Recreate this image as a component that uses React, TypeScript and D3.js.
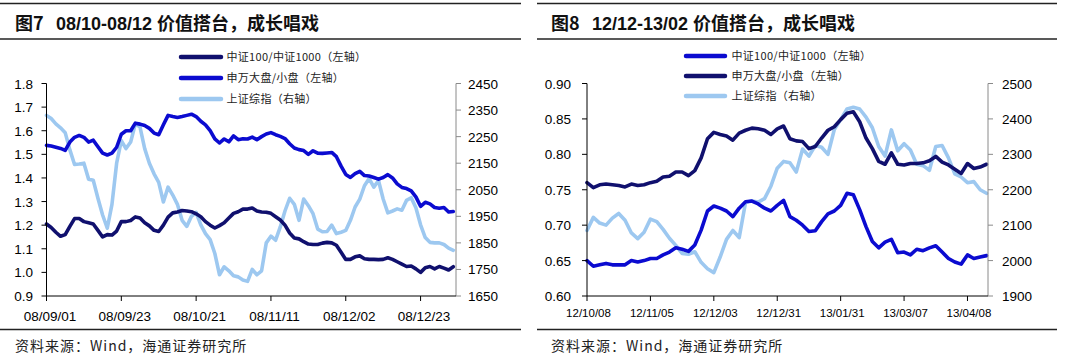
import React from "react";
import * as d3 from "d3";

const LATIN = "'Liberation Sans', Arial, 'Noto Sans CJK SC', sans-serif";
const CJK = "'Noto Sans CJK SC', 'Liberation Sans', sans-serif";

const NAVY = "#10106e";
const BLUE = "#0b0bd0";
const LIGHT = "#9dc8f0";

// ---------- Figure 7 data (one value per trading day) ----------
const fig7Label = "图7";
const fig7Title = "08/10-08/12 价值搭台，成长唱戏";
const fig7TickLabels = ["08/09/01", "08/09/23", "08/10/21", "08/11/11", "08/12/02", "08/12/23"];
const fig7TickDays = [0, 16, 32, 48, 64, 80];
const fig7LastDay = 87;
const fig7LeftTicks = [0.9, 1.0, 1.1, 1.2, 1.3, 1.4, 1.5, 1.6, 1.7, 1.8];
const fig7RightTicks = [1650, 1750, 1850, 1950, 2050, 2150, 2250, 2350, 2450];

// 中证100/中证1000 (left axis)
const fig7Csi = [
  1.205, 1.19, 1.17, 1.153, 1.16, 1.195, 1.228, 1.228, 1.215, 1.21,
  1.205, 1.178, 1.15, 1.16, 1.158, 1.175, 1.215, 1.215, 1.22, 1.235,
  1.23, 1.21, 1.197, 1.178, 1.173, 1.2, 1.234, 1.252, 1.256, 1.262,
  1.26, 1.257, 1.248, 1.236, 1.215, 1.2, 1.188, 1.198, 1.21, 1.23,
  1.25, 1.257, 1.268, 1.268, 1.273, 1.26, 1.256, 1.255, 1.25, 1.236,
  1.222, 1.2, 1.167, 1.146, 1.142, 1.13, 1.12, 1.118, 1.118, 1.124,
  1.127, 1.125, 1.115, 1.085, 1.055, 1.055, 1.066, 1.07, 1.058, 1.055,
  1.055, 1.054, 1.055, 1.062, 1.055, 1.045, 1.035, 1.025, 1.027, 1.015,
  1.0, 1.02, 1.025, 1.015, 1.025, 1.018, 1.01, 1.024,
];
// 申万大盘/小盘 (left axis)
const fig7Sw = [
  1.538, 1.535, 1.53, 1.525, 1.517, 1.552, 1.572, 1.58, 1.572, 1.552,
  1.56, 1.532, 1.505, 1.497, 1.505, 1.53, 1.585, 1.6, 1.6, 1.632,
  1.628, 1.622, 1.61, 1.59, 1.583, 1.625, 1.665, 1.66, 1.656, 1.66,
  1.665, 1.67, 1.66, 1.64, 1.625, 1.6, 1.565, 1.548, 1.565, 1.553,
  1.578, 1.562, 1.566, 1.565, 1.573, 1.562, 1.575, 1.586, 1.592, 1.583,
  1.576, 1.567, 1.545, 1.527, 1.52, 1.516, 1.5, 1.515, 1.505, 1.504,
  1.506, 1.508, 1.49, 1.45, 1.415, 1.402, 1.418, 1.428, 1.41, 1.408,
  1.402, 1.395, 1.402, 1.414, 1.4, 1.375, 1.36, 1.355, 1.345, 1.32,
  1.28, 1.297, 1.29, 1.275, 1.272, 1.275, 1.256, 1.258,
];
// 上证综指 (right axis)
const fig7Sse = [
  2330, 2318, 2298, 2283, 2265, 2200, 2145, 2147, 2150, 2090,
  2086, 2018, 1955, 1905, 1995, 2150, 2235, 2205, 2230, 2298,
  2286, 2205, 2150, 2110, 2078, 2004, 2060, 2030, 1995, 1935,
  1912, 1950, 1965, 1918, 1885, 1862, 1810, 1730, 1760, 1745,
  1726, 1722, 1710, 1705, 1750, 1730, 1745, 1850, 1875, 1860,
  1910, 1970, 2018, 1995, 1935, 2015, 1990, 1960, 1902, 1892,
  1893, 1917, 1885, 1890, 1897, 1935, 1985, 2015, 2065, 2092,
  2060, 2085, 2015, 1963, 1970, 1978, 1973, 2010, 2020, 1982,
  1918, 1870, 1852, 1850, 1850, 1844, 1830, 1822,
];

// ---------- Figure 8 data (one value every 2 trading days) ----------
const fig8Label = "图8";
const fig8Title = "12/12-13/02 价值搭台，成长唱戏";
const fig8TickLabels = ["12/10/08", "12/11/05", "12/12/03", "12/12/31", "13/01/31", "13/03/07", "13/04/08"];
const fig8TickDays = [0, 20, 40, 60, 80, 100, 120];
const fig8LastDay = 126;
const fig8Step = 2;
const fig8LeftTicks = [0.6, 0.65, 0.7, 0.75, 0.8, 0.85, 0.9];
const fig8RightTicks = [1900, 2000, 2100, 2200, 2300, 2400, 2500];

// 中证100/中证1000 (left axis)
const fig8Csi = [
  0.65, 0.642, 0.644, 0.646, 0.644, 0.644, 0.644, 0.65, 0.648, 0.65,
  0.653, 0.653, 0.658, 0.662, 0.668, 0.666, 0.663, 0.672, 0.693, 0.72,
  0.727, 0.724, 0.72, 0.712, 0.724, 0.733, 0.734, 0.73, 0.724, 0.72,
  0.728, 0.735, 0.712, 0.707, 0.7, 0.691, 0.692, 0.705, 0.716, 0.72,
  0.728, 0.745, 0.743, 0.722, 0.698, 0.677, 0.668, 0.676, 0.68, 0.661,
  0.662, 0.658, 0.666, 0.664, 0.668, 0.671, 0.662, 0.653, 0.648, 0.645,
  0.658, 0.653, 0.655, 0.657,
];
// 申万大盘/小盘 (left axis)
const fig8Sw = [
  0.76, 0.753, 0.757, 0.758, 0.757, 0.756, 0.754, 0.758, 0.756, 0.757,
  0.76, 0.762, 0.768, 0.769, 0.775, 0.775, 0.77, 0.777, 0.795, 0.822,
  0.831, 0.828, 0.826, 0.82, 0.83, 0.834, 0.837, 0.836, 0.834, 0.828,
  0.836, 0.84, 0.822, 0.819, 0.818, 0.808, 0.811, 0.823, 0.834, 0.839,
  0.849, 0.858, 0.86, 0.846, 0.823, 0.808, 0.79, 0.786, 0.802, 0.786,
  0.785, 0.787, 0.787, 0.788, 0.791, 0.797, 0.789, 0.785, 0.779, 0.773,
  0.787, 0.78, 0.782, 0.786,
];
// 上证综指 (right axis)
const fig8Sse = [
  2085, 2122, 2106, 2100, 2120, 2133, 2114, 2078, 2062, 2080,
  2117, 2110, 2088, 2063, 2043, 2020, 2018, 2025, 1995, 1977,
  1966, 2010, 2060, 2085, 2065, 2164, 2168, 2165, 2175, 2210,
  2261, 2280, 2276, 2250, 2315, 2295, 2325, 2320, 2300, 2370,
  2398, 2428, 2433, 2428, 2405, 2375, 2322, 2295, 2369, 2310,
  2330, 2312, 2272, 2268, 2255, 2322, 2325, 2290, 2245, 2236,
  2220, 2223, 2200, 2190,
];

const source = "资料来源：Wind，海通证券研究所";

type Series = { name: string; values: number[]; axis: "left" | "right"; color: string };

type ChartProps = {
  label: string;
  title: string;
  layout: any;
  lastDay: number;
  step: number;
  tickDays: number[];
  tickLabels: string[];
  leftTicks: number[];
  rightTicks: number[];
  leftFmt: (v: number) => string;
  legend: Series[];
  drawOrder: number[];
};

function Chart(p: ChartProps) {
  const L = p.layout;
  const x = d3.scaleLinear().domain([0, p.lastDay]).range([L.dataX0, L.dataX1]);
  const yL = d3.scaleLinear().domain([p.leftTicks[0], p.leftTicks[p.leftTicks.length - 1]]).range([L.bottom, L.top]);
  const yR = d3.scaleLinear().domain([p.rightTicks[0], p.rightTicks[p.rightTicks.length - 1]]).range([L.bottom, L.top]);

  const pathFor = (s: Series) => {
    const ys = s.axis === "left" ? yL : yR;
    const line = d3
      .line<number>()
      .x((_, i) => x(i * p.step))
      .y((v) => ys(v))
      .curve(d3.curveLinear);
    return line(s.values) || "";
  };

  return (
    <g>
      {/* header rules + title */}
      <line x1={L.ruleX0} x2={L.ruleX1} y1={3.5} y2={3.5} stroke="#222" strokeWidth={1.3} />
      <line x1={L.ruleX0} x2={L.ruleX1} y1={39} y2={39} stroke="#222" strokeWidth={1.3} />
      <text x={L.titleX0} y={29.5} fontFamily={CJK} fontWeight="bold" fontSize={18} fill="#111">
        {p.label}
      </text>
      <text x={L.titleX1} y={29.5} fontFamily={LATIN} fontWeight="bold" fontSize={18} fill="#111">
        {p.title}
      </text>

      {/* legend */}
      {p.legend.map((s, i) => (
        <g key={s.name}>
          <line
            x1={L.legX0}
            x2={L.legX1}
            y1={L.legY[i]}
            y2={L.legY[i]}
            stroke={s.color}
            strokeWidth={4.5}
            strokeLinecap="round"
          />
          <text x={L.legTextX} y={L.legY[i] + 4} fontFamily={CJK} fontSize={11} fill="#222" letterSpacing={0.3}>
            {s.name}
          </text>
        </g>
      ))}

      {/* series */}
      {p.drawOrder.map((k) => {
        const s = p.legend[k];
        return (
          <path
            key={s.name}
            d={pathFor(s)}
            fill="none"
            stroke={s.color}
            strokeWidth={3.6}
            strokeLinejoin="round"
            strokeLinecap="round"
          />
        );
      })}

      {/* left axis */}
      <line x1={L.plotLeft} x2={L.plotLeft} y1={L.top} y2={L.bottom} stroke="#000" strokeWidth={1} />
      {p.leftTicks.map((t) => (
        <g key={"l" + t}>
          <line x1={L.plotLeft - 5} x2={L.plotLeft} y1={yL(t)} y2={yL(t)} stroke="#000" strokeWidth={1} />
          <text
            x={L.leftLabelX}
            y={yL(t) + 5}
            textAnchor="end"
            fontFamily={LATIN}
            fontSize={L.yFont}
            fill="#000"
          >
            {p.leftFmt(t)}
          </text>
        </g>
      ))}

      {/* right axis */}
      <line x1={L.plotRight} x2={L.plotRight} y1={L.top} y2={L.bottom} stroke="#8a8a8a" strokeWidth={1} />
      {p.rightTicks.map((t) => (
        <g key={"r" + t}>
          <line x1={L.plotRight} x2={L.plotRight + 5} y1={yR(t)} y2={yR(t)} stroke="#8a8a8a" strokeWidth={1} />
          <text x={L.rightLabelX} y={yR(t) + 5} fontFamily={LATIN} fontSize={L.yFont} fill="#000">
            {String(t)}
          </text>
        </g>
      ))}

      {/* x axis */}
      <line x1={L.plotLeft} x2={L.plotRight} y1={L.bottom} y2={L.bottom} stroke="#000" strokeWidth={1} />
      {p.tickDays.map((d, i) => (
        <g key={"x" + d}>
          <line x1={x(d)} x2={x(d)} y1={L.bottom} y2={L.bottom + 5} stroke="#000" strokeWidth={1} />
          <text
            x={x(d) + L.xLabelDx}
            y={L.xLabelY}
            textAnchor="middle"
            fontFamily={LATIN}
            fontSize={L.xFont}
            fill="#000"
          >
            {p.tickLabels[i]}
          </text>
        </g>
      ))}

      {/* footer */}
      <line x1={L.ruleX0} x2={L.ruleX1} y1={329.5} y2={329.5} stroke="#222" strokeWidth={1.3} />
      <text x={L.titleX0} y={351} fontFamily={CJK} fontSize={14} fill="#222" letterSpacing={1}>
        {source}
      </text>
    </g>
  );
}

export default function App() {
  const layout7 = {
    ruleX0: 0,
    ruleX1: 521,
    titleX0: 15,
    titleX1: 56,
    legX0: 181,
    legX1: 221,
    legTextX: 226.5,
    legY: [57, 78, 99],
    plotLeft: 46.5,
    plotRight: 456,
    dataX0: 46.5,
    dataX1: 453.3,
    top: 83.5,
    bottom: 296,
    leftLabelX: 33,
    rightLabelX: 468,
    yFont: 13.5,
    xFont: 13.5,
    xLabelY: 320.5,
    xLabelDx: 3.5,
  };
  const layout8 = {
    ruleX0: 537,
    ruleX1: 1057,
    titleX0: 551,
    titleX1: 592,
    legX0: 686,
    legX1: 725,
    legTextX: 731.5,
    legY: [56, 76, 96],
    plotLeft: 587,
    plotRight: 988,
    dataX0: 587,
    dataX1: 986.5,
    top: 83.5,
    bottom: 296,
    leftLabelX: 571,
    rightLabelX: 1002,
    yFont: 13.5,
    xFont: 11.5,
    xLabelY: 316.5,
    xLabelDx: 1.5,
  };

  const legend7: Series[] = [
    { name: "中证100/中证1000（左轴）", values: fig7Csi, axis: "left", color: NAVY },
    { name: "申万大盘/小盘（左轴）", values: fig7Sw, axis: "left", color: BLUE },
    { name: "上证综指（右轴）", values: fig7Sse, axis: "right", color: LIGHT },
  ];
  const legend8: Series[] = [
    { name: "中证100/中证1000（左轴）", values: fig8Csi, axis: "left", color: BLUE },
    { name: "申万大盘/小盘（左轴）", values: fig8Sw, axis: "left", color: NAVY },
    { name: "上证综指（右轴）", values: fig8Sse, axis: "right", color: LIGHT },
  ];

  return (
    <svg
      width={1068}
      height={355}
      style={{ position: "absolute", left: 0, top: 0, background: "#fff" }}
    >
      <rect x={0} y={0} width={1068} height={355} fill="#fff" />
      <Chart
        label={fig7Label}
        title={fig7Title}
        layout={layout7}
        lastDay={fig7LastDay}
        step={1}
        tickDays={fig7TickDays}
        tickLabels={fig7TickLabels}
        leftTicks={fig7LeftTicks}
        rightTicks={fig7RightTicks}
        leftFmt={(v) => v.toFixed(1)}
        legend={legend7}
        drawOrder={[2, 0, 1]}
      />
      <Chart
        label={fig8Label}
        title={fig8Title}
        layout={layout8}
        lastDay={fig8LastDay}
        step={fig8Step}
        tickDays={fig8TickDays}
        tickLabels={fig8TickLabels}
        leftTicks={fig8LeftTicks}
        rightTicks={fig8RightTicks}
        leftFmt={(v) => v.toFixed(2)}
        legend={legend8}
        drawOrder={[2, 1, 0]}
      />
    </svg>
  );
}
